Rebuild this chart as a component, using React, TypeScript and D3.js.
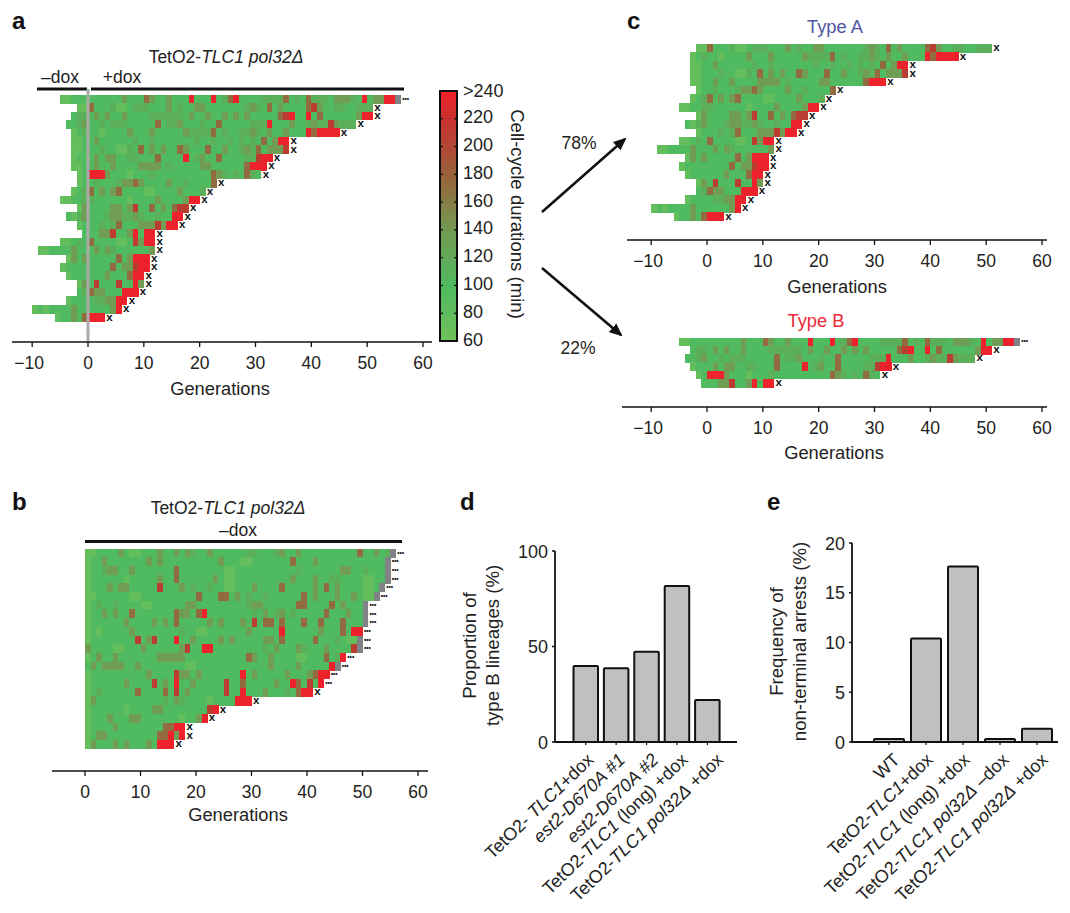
import React from "react";
import * as d3 from "d3";

// Duration (min) of each cell code used in the row strings below; G = lineage still running / no duration.
const LEVEL_MINUTES: Record<string, number> = { "0": 72, "1": 100, "2": 114, "3": 136, "4": 172, "5": 208, "6": 245 };

// Panel a lineages: generations before 0 | generations from 0 on
const lineagesA: string[] = [
  "00111|11111 13111 43113 11161 11612 46111 12222 41214 22213 33216 13366 G",
  "00|41112 00122 21113 12113 31111 11123 21413 11114 53112 21122 2",
  "122|13131 13111 12222 22131 13113 13131 11114 56116 14111 11136 6",
  "1123|11212 22111 11412 23111 21141 11112 22611 13112 32253 222",
  "012|11011 11311 13111 11322 22412 11223 21311 31116 46666",
  "001|13111 11121 12111 11112 11211 21212 14136 6",
  "001|11211 00214 13131 14311 14113 11232 41333 5",
  "011|13133 11221 11411 11612 31141 11122 566",
  "001|13113 11113 33312 11111 33111 11146 66",
  "01|66631 11011 12111 11111 11432 12142 1",
  "01|12111 23343 11113 11211 114",
  "012|41313 41111 00111 13111 2",
  "00112|21111 11011 11311 11366",
  "03|11113 31351 14131 455",
  "1023|11123 32232 11211 66",
  "01|11212 41113 33536 6",
  "1|11335 11361 66",
  "00121|41111 00153 66",
  "001111311|13132 11111 13",
  "0313|11111 41366 6",
  "01111|11114 13356 6",
  "0111|11131 11466",
  "03|15111 51163",
  "12|43311 1666",
  "0111|12233 66",
  "0101111311|11113 6",
  "011314|666",
];
const fatesA: string[] = ["dots", ...Array.from({ length: 26 }, () => "x")];
const typeAIndex: number[] = [1, 4, 5, 6, 8, 10, 11, 12, 13, 14, 15, 17, 18, 19, 20, 21, 22, 23, 24, 25, 26];
const typeBIndex: number[] = [0, 2, 3, 7, 9, 16];

// Panel b lineages, all from generation 0
const lineagesB: string[] = [
  "00111 13100 11131 13132 11311 11112 21112 31131 11111 11114 11312 G",
  "01131 11111 13131 11111 11113 11100 11111 11411 13111 11111 1111G",
  "01123 31131 11111 14111 11111 00111 11111 11121 11111 13311 2111G",
  "01111 11011 11131 14111 11131 00111 11111 11311 13112 21111 0011G",
  "01113 13311 11151 11312 11211 00111 31111 41111 13141 31111 001G",
  "00111 11100 11111 11111 41114 41312 11211 11114 13111 31131 00G",
  "01211 21111 00111 11133 11111 11112 33111 11144 11114 13111 G",
  "01131 31141 11111 14331 46111 11111 21312 31211 11141 11311 G",
  "01111 11311 11313 14111 11313 11131 51441 41114 11411 14111 G",
  "01011 11131 11111 11211 00111 11113 11111 61111 11311 14166",
  "01111 11115 13511 16113 11113 13111 11331 41111 14111 2100G",
  "31111 00111 31111 11351 16611 11111 11213 11132 11131 1115G",
  "01311 31111 11133 33311 11111 11114 31131 11100 11141 26",
  "13133 33113 11111 11100 11111 11111 11131 11131 11116 G",
  "01111 11111 13111 15331 31111 11161 31111 13111 3466",
  "01111 11311 11513 16113 11111 51141 11113 11641 516",
  "01211 11114 11114 15131 11111 51161 11311 12146 6",
  "03111 11111 11112 13211 11011 11666",
  "01111 11011 11331 11111 1156",
  "01113 11133 11111 11011 36",
  "01111 31111 11114 466",
  "01331 11111 11144 636",
  "03111 31311 13166 6",
];
const fatesB: string[] = [
  "dots", "dots", "dots", "dots", "dots", "dots", "dots", "dots", "dots", "dots", "dots", "dots",
  "dots", "dots", "dots", "dots", "x", "x", "x", "x", "x", "x", "x",
];

const colorTicks: number[] = [60, 80, 100, 120, 140, 160, 180, 200, 220, 240];
const colorStops: number[] = [60, 100, 140, 180, 220, 240];
const colorRange: string[] = ["#6fc05a", "#4fba5f", "#739a52", "#9a603a", "#c9302f", "#ee2229"];

type Seg = { t: string; i?: boolean };
const categoriesD: Seg[][] = [
  [{ t: "TetO2- " }, { t: "TLC1", i: true }, { t: "+dox" }],
  [{ t: "est2-D670A #1", i: true }],
  [{ t: "est2-D670A #2", i: true }],
  [{ t: "TetO2-" }, { t: "TLC1", i: true }, { t: " (long) +dox" }],
  [{ t: "TetO2-" }, { t: "TLC1 pol32Δ", i: true }, { t: " +dox" }],
];
const valuesD: number[] = [39.8, 38.6, 47.3, 81.7, 22];
const categoriesE: Seg[][] = [
  [{ t: "WT" }],
  [{ t: "TetO2-" }, { t: "TLC1", i: true }, { t: "+dox" }],
  [{ t: "TetO2-" }, { t: "TLC1", i: true }, { t: " (long) +dox" }],
  [{ t: "TetO2-" }, { t: "TLC1 pol32Δ", i: true }, { t: " –dox" }],
  [{ t: "TetO2-" }, { t: "TLC1 pol32Δ", i: true }, { t: " +dox" }],
];
const valuesE: number[] = [0.3, 10.4, 17.65, 0.3, 1.34];
const genTicksFull: number[] = [-10, 0, 10, 20, 30, 40, 50, 60];
const genTicksB: number[] = [0, 10, 20, 30, 40, 50, 60];

const FONT = "'Liberation Sans', Arial, Helvetica, sans-serif";
const GREY_CELL = "#808285";
const FS = 18.3;
const color = d3.scaleLinear<string>().domain(colorStops).range(colorRange).clamp(true);

type Row = { start: number; cells: string[]; fate: string };
function parse(s: string, fate: string): Row {
  const parts = s.split("|");
  const pre = parts.length > 1 ? parts[0] : "";
  const post = parts[parts.length - 1].replace(/\s/g, "");
  return { start: -pre.length, cells: (pre + post).split(""), fate };
}
const rowsA = lineagesA.map((s, i) => parse(s, fatesA[i]));
const rowsB = lineagesB.map((s, i) => parse(s, fatesB[i]));

function Heat({ rows, x, top, rowH }: { rows: Row[]; x: d3.ScaleLinear<number, number>; top: number; rowH: number }) {
  const y = d3.scaleBand<number>().domain(d3.range(rows.length)).range([top, top + rowH * rows.length]);
  return (
    <g>
      <g filter="url(#soft)" shapeRendering="crispEdges">
        {rows.map((r, ri) =>
          r.cells.map((c, ci) => {
            const g = r.start + ci;
            return (
              <rect
                key={`${ri}-${ci}`}
                x={x(g)}
                y={y(ri)}
                width={x(g + 1) - x(g) + 0.4}
                height={y.bandwidth() + 0.4}
                fill={c === "G" ? GREY_CELL : color(LEVEL_MINUTES[c])}
              />
            );
          })
        )}
      </g>
      {rows.map((r, ri) =>
        r.fate === "x" ? (
          <text key={ri} x={x(r.start + r.cells.length) + 4.8} y={y(ri)! + rowH / 2 + 3.2} fontSize={11.5} fontWeight={700} textAnchor="middle" fill="#111">
            x
          </text>
        ) : (
          <text key={ri} x={x(r.start + r.cells.length) + 1.5} y={y(ri)! + rowH / 2 + 1.8} fontSize={6.5} fontWeight={700} fill="#111">
            •••
          </text>
        )
      )}
    </g>
  );
}

function GenAxis({ x, y, x0, x1, ticks, labelX, labelY }: { x: d3.ScaleLinear<number, number>; y: number; x0: number; x1: number; ticks: number[]; labelX: number; labelY: number }) {
  return (
    <g>
      <line x1={x0} x2={x1} y1={y} y2={y} stroke="#111" strokeWidth={1.6} />
      {ticks.map((t) => (
        <g key={t}>
          <line x1={x(t)} x2={x(t)} y1={y} y2={y + 5} stroke="#111" strokeWidth={1.3} />
          <text x={t < 0 ? x(t) - 3 : x(t)} y={y + 27} textAnchor="middle" fontSize={17.5} fill="#222">
            {t < 0 ? `−${-t}` : t}
          </text>
        </g>
      ))}
      <text x={labelX} y={labelY} textAnchor="middle" fontSize={FS} fill="#222">
        Generations
      </text>
    </g>
  );
}

function Title({ x, y }: { x: number; y: number }) {
  return (
    <text x={x} y={y} textAnchor="middle" fontSize={17.5} fill="#222">
      TetO2-<tspan fontStyle="italic">TLC1 pol32Δ</tspan>
    </text>
  );
}

function Bars({ cats, vals, max, ticks, axisX, axisEnd, y0, y1, band, startX, step, titleX, lines, labelShift }: {
  cats: Seg[][]; vals: number[]; max: number; ticks: number[]; axisX: number; axisEnd: number; y0: number; y1: number;
  band: number; startX: number; step: number; titleX: number[]; lines: string[]; labelShift: number[];
}) {
  const y = d3.scaleLinear().domain([0, max]).range([y0, y1]);
  const midY = (y0 + y1) / 2;
  return (
    <g>
      {vals.map((v, i) => (
        <rect key={i} x={startX + step * i} y={y(v)} width={band} height={y0 - y(v)} rx={1} fill="#c0c0c0" stroke="#111" strokeWidth={2} />
      ))}
      <line x1={axisX} x2={axisX} y1={y1} y2={y0 + 1} stroke="#111" strokeWidth={1.8} />
      <line x1={axisX} x2={axisEnd} y1={y0} y2={y0} stroke="#111" strokeWidth={1.8} />
      {ticks.map((t) => (
        <g key={t}>
          <line x1={axisX - 3} x2={axisX} y1={y(t)} y2={y(t)} stroke="#111" strokeWidth={1.5} />
          <text x={axisX - 7} y={y(t) + 6.5} textAnchor="end" fontSize={18} fill="#222">{t}</text>
        </g>
      ))}
      {cats.map((c, i) => {
        const cx = startX + step * i + band / 2;
        return (
          <g key={i}>
            <line x1={cx} x2={cx} y1={y0} y2={y0 + 3} stroke="#111" strokeWidth={1.2} />
            <text transform={`translate(${cx + labelShift[i]},${y0 + 19}) rotate(-44)`} textAnchor="end" fontSize={18} fill="#222">
              {c.map((s, k) => (
                <tspan key={k} fontStyle={s.i ? "italic" : "normal"}>{s.t}</tspan>
              ))}
            </text>
          </g>
        );
      })}
      {lines.map((l, i) => (
        <text key={i} transform={`translate(${titleX[i]},${midY - 1}) rotate(-90)`} textAnchor="middle" fontSize={18.6} fill="#222">{l}</text>
      ))}
    </g>
  );
}

function Arrow({ x1, y1, x2, y2 }: { x1: number; y1: number; x2: number; y2: number }) {
  return <line x1={x1} y1={y1} x2={x2} y2={y2} stroke="#111" strokeWidth={2.6} markerEnd="url(#ah)" />;
}

export default function App() {
  const xA = d3.scaleLinear().domain([0, 60]).range([88, 423]);
  const xC = d3.scaleLinear().domain([0, 60]).range([707, 1042]);
  const xB = d3.scaleLinear().domain([0, 60]).range([85, 418]);
  const cbar = d3.scaleLinear().domain([60, 240]).range([341, 91]);
  const gradId = "cb";
  const letters: [string, number, number][] = [["a", 12, 29], ["b", 12, 510], ["c", 627, 29], ["d", 460, 510], ["e", 767, 510]];
  return (
    <svg width={1054} height={904} viewBox="8 8 1054 904" style={{ display: "block", fontFamily: FONT }}>
      <defs>
        <linearGradient id={gradId} x1="0" y1="1" x2="0" y2="0">
          {colorStops.map((s) => (
            <stop key={s} offset={(s - 60) / 180} stopColor={color(s)} />
          ))}
        </linearGradient>
        <marker id="ah" viewBox="0 0 10 10" refX="8.5" refY="5" markerWidth="5" markerHeight="5" orient="auto" markerUnits="strokeWidth">
          <path d="M0,0.6 L10,5 L0,9.4 Z" fill="#111" />
        </marker>
        <filter id="soft" x="-2%" y="-2%" width="104%" height="104%">
          <feGaussianBlur stdDeviation="0.45" />
        </filter>
      </defs>
      {letters.map(([t, x, y]) => (
        <text key={t} x={x} y={y} fontSize={24} fontWeight={700} fill="#111">{t}</text>
      ))}

      {/* a */}
      <Title x={226} y={63} />
      <text x={60} y={83} textAnchor="middle" fontSize={17.5} fill="#222">–dox</text>
      <text x={122} y={83} textAnchor="middle" fontSize={17.5} fill="#222">+dox</text>
      <line x1={37} x2={87} y1={89} y2={89} stroke="#111" strokeWidth={3} />
      <line x1={91} x2={404} y1={89} y2={89} stroke="#111" strokeWidth={3} />
      <Heat rows={rowsA} x={xA} top={94.8} rowH={8.4} />
      <line x1={88} x2={88} y1={89} y2={342} stroke="#aaa" strokeWidth={3} />
      <GenAxis x={xA} y={342} x0={12} x1={432} ticks={genTicksFull} labelX={220} labelY={395} />

      {/* colour bar */}
      <rect x={440} y={91} width={17} height={250} fill={`url(#${gradId})`} stroke="#111" strokeWidth={2} />
      {colorTicks.map((t) => (
        <g key={t}>
          <line x1={440} x2={443} y1={cbar(t)} y2={cbar(t)} stroke="#111" strokeWidth={1.2} />
          <line x1={454} x2={457} y1={cbar(t)} y2={cbar(t)} stroke="#111" strokeWidth={1.2} />
          <text x={463} y={Math.max(cbar(t) + 4.5, 97)} fontSize={18} fill="#222">{t === 240 ? ">240" : t}</text>
        </g>
      ))}
      <text transform="translate(511,214) rotate(90)" textAnchor="middle" fontSize={18.6} fill="#222">Cell-cycle durations (min)</text>

      {/* arrows */}
      <Arrow x1={542} y1={212} x2={625} y2={139} />
      <Arrow x1={542} y1={268} x2={621} y2={335} />
      <text x={579} y={149} textAnchor="middle" fontSize={17.5} fill="#222">78%</text>
      <text x={578} y={354} textAnchor="middle" fontSize={17.5} fill="#222">22%</text>

      {/* c */}
      <text x={835} y={33} textAnchor="middle" fontSize={FS} fill="#5157a4">Type A</text>
      <Heat rows={typeAIndex.map((i) => rowsA[i])} x={xC} top={44} rowH={8.41} />
      <GenAxis x={xC} y={240} x0={627} x1={1047} ticks={genTicksFull} labelX={837} labelY={293} />
      <text x={816} y={327} textAnchor="middle" fontSize={FS} fill="#ee2a3a">Type B</text>
      <Heat rows={typeBIndex.map((i) => rowsA[i])} x={xC} top={337.5} rowH={8.3} />
      <GenAxis x={xC} y={407} x0={622} x1={1047} ticks={genTicksFull} labelX={834} labelY={459} />

      {/* b */}
      <Title x={228} y={514} />
      <text x={238} y={536} textAnchor="middle" fontSize={17.5} fill="#222">–dox</text>
      <line x1={85} x2={402} y1={541.5} y2={541.5} stroke="#111" strokeWidth={3} />
      <Heat rows={rowsB} x={xB} top={548.5} rowH={8.7} />
      <GenAxis x={xB} y={771} x0={52} x1={428} ticks={genTicksB} labelX={238} labelY={821} />

      {/* d */}
      <Bars cats={categoriesD} vals={valuesD} max={100} ticks={[0, 50, 100]} axisX={555} axisEnd={737} y0={742} y1={551} band={24.5} startX={573.5} step={30.4}
        titleX={[476, 499]} lines={["Proportion of", "type B lineages (%)"]} labelShift={[9, 10, 13, 12, 17]} />
      {/* e */}
      <Bars cats={categoriesE} vals={valuesE} max={20} ticks={[0, 5, 10, 15, 20]} axisX={852} axisEnd={1058} y0={742} y1={543} band={30} startX={874} step={37}
        titleX={[783, 806]} lines={["Frequency of", "non-terminal arrests (%)"]} labelShift={[12, 8, 8, 10, 12]} />
    </svg>
  );
}
